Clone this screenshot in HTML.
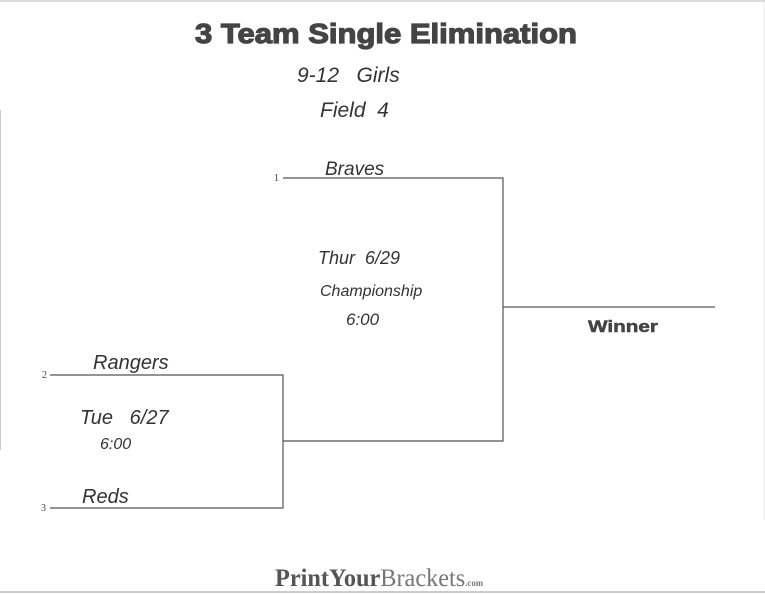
<!DOCTYPE html>
<html><head><style>
html,body{margin:0;padding:0;background:#fff;}
svg{display:block;}
.h{font-family:"Liberation Sans",sans-serif;font-style:italic;fill:#333;font-weight:normal;}
</style></head><body>
<svg width="765" height="595" viewBox="0 0 765 595" xmlns="http://www.w3.org/2000/svg">
<rect x="0" y="0" width="765" height="2" fill="#ddd"/>
<line x1="764" y1="2" x2="764" y2="520" stroke="#e6e6e6"/>
<line x1="0.5" y1="110" x2="0.5" y2="450" stroke="#ccc"/>
<text x="195" y="43" font-family="'Liberation Sans',sans-serif" font-weight="bold" font-size="28" fill="#444" textLength="382" lengthAdjust="spacingAndGlyphs" stroke="#444" stroke-width="1.2">3 Team Single Elimination</text>
<text x="297" y="82" class="h" font-size="21">9-12&#160;&#160;&#160;Girls</text>
<text x="320" y="117" class="h" font-size="21">Field&#160;&#160;4</text>
<g stroke="#555" stroke-width="1.2" fill="none">
<polyline points="283,178 503,178 503,441 283,441"/>
<line x1="503" y1="307" x2="715" y2="307"/>
<polyline points="50,375 283,375 283,508 50,508"/>
</g>
<g font-family="'Liberation Serif',serif" font-size="10" fill="#444">
<text x="274" y="181">1</text><text x="42" y="378">2</text><text x="41" y="511">3</text>
</g>
<text x="325" y="175" class="h" font-size="19">Braves</text>
<text x="318" y="264" class="h" font-size="18">Thur&#160;&#160;6/29</text>
<text x="320" y="296" class="h" font-size="16">Championship</text>
<text x="346" y="325" class="h" font-size="17">6:00</text>
<text x="588" y="332" font-family="'Liberation Sans',sans-serif" font-weight="bold" font-size="17" fill="#444" textLength="70" lengthAdjust="spacingAndGlyphs" stroke="#444" stroke-width="0.5">Winner</text>
<text x="93" y="369" class="h" font-size="20">Rangers</text>
<text x="80" y="424" class="h" font-size="20">Tue&#160;&#160;&#160;6/27</text>
<text x="100" y="449" class="h" font-size="16">6:00</text>
<text x="82" y="503" class="h" font-size="20">Reds</text>
<text x="275" y="586" font-family="'Liberation Serif',serif" font-weight="bold" font-size="25" fill="#555" textLength="208" lengthAdjust="spacingAndGlyphs">PrintYour<tspan font-weight="normal" fill="#777">Brackets</tspan><tspan font-size="9" fill="#777">.com</tspan></text>
<line x1="0" y1="592" x2="765" y2="592" stroke="#bbb" stroke-width="1.5"/>
</svg>
</body></html>
